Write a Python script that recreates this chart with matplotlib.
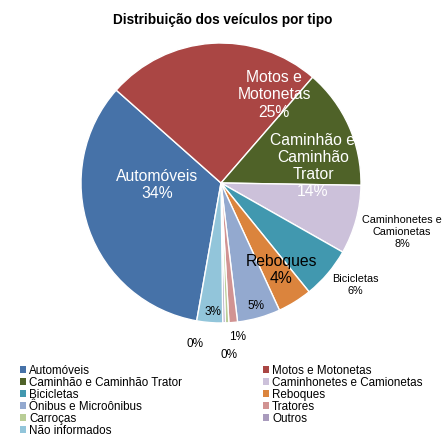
import matplotlib
matplotlib.use("Agg")
from matplotlib import pyplot as plt
from matplotlib.patches import Patch

plt.rcParams['font.family'] = ['Liberation Sans', 'DejaVu Sans']

categories = ['Automóveis', 'Motos e Motonetas', 'Caminhão e Caminhão Trator',
              'Caminhonetes e Camionetas', 'Bicicletas', 'Reboques',
              'Ônibus e Microônibus', 'Tratores', 'Carroças', 'Outros',
              'Não informados']
values = [34, 25, 14, 8, 6, 4, 5, 1, 0.4, 0.3, 3]
colors = ['#4672a8', '#aa4644', '#4f6228', '#ccc1da', '#4198af', '#db843d',
          '#93a9cf', '#d19392', '#b9cd96', '#a99bbd', '#92c5da']

# slice labels: text, x, y (pie units), color, size
labels = [
    ('Automóveis\n34%', -0.457, -0.014, 'white', 11.3),
    ('Motos e\nMotonetas\n25%', 0.379, 0.629, 'white', 11.3),
    ('Caminhão e\nCaminhão\nTrator\n14%', 0.657, 0.121, 'white', 11.3),
    ('Caminhonetes e\nCamionetas\n8%', 1.293, -0.35, 'black', 7.8),
    ('Bicicletas\n6%', 0.957, -0.729, 'black', 7.8),
    ('Reboques\n4%', 0.429, -0.621, 'black', 11.3),
    ('5%', 0.25, -0.879, 'black', 8.5),
    ('1%', 0.121, -1.10, 'black', 8.5),
    ('0%', 0.057, -1.229, 'black', 8.5),
    ('0%', -0.186, -1.15, 'black', 8.5),
    ('3%', -0.057, -0.921, 'black', 8.5),
]

fig = plt.figure(figsize=(4.46, 4.37), dpi=100)
fig.text(0.5, 0.954, 'Distribuição dos veículos por tipo', ha='center',
         va='center', fontsize=9.8, fontweight='bold')

ax = fig.add_axes([0.1816, 0.2609, 0.6278, 0.6407])
ax.pie(values, colors=colors, startangle=-100, counterclock=False,
       wedgeprops=dict(edgecolor='white', linewidth=1))
ax.set_xlim(-1, 1)
ax.set_ylim(-1, 1)
ax.set_aspect('equal')
ax.axis('off')

for txt, x, y, c, s in labels:
    ax.text(x, y, txt, ha='center', va='center', color=c, fontsize=s,
            linespacing=1.18 if s > 10 else 1.3, clip_on=False)

# legend filled row by row like the original
handles = [Patch(facecolor=c, edgecolor='none') for c in colors]
order = [0, 2, 4, 6, 8, 10, 1, 3, 5, 7, 9]
fig.legend([handles[i] for i in order], [categories[i] for i in order],
           ncol=2, loc='upper left', bbox_to_anchor=(0.045, 0.165),
           frameon=False, fontsize=8.4, handlelength=0.5, handleheight=0.5,
           handletextpad=0.3, labelspacing=0.0, columnspacing=6.9,
           borderpad=0, borderaxespad=0)

fig.savefig('out.png', dpi=100)
